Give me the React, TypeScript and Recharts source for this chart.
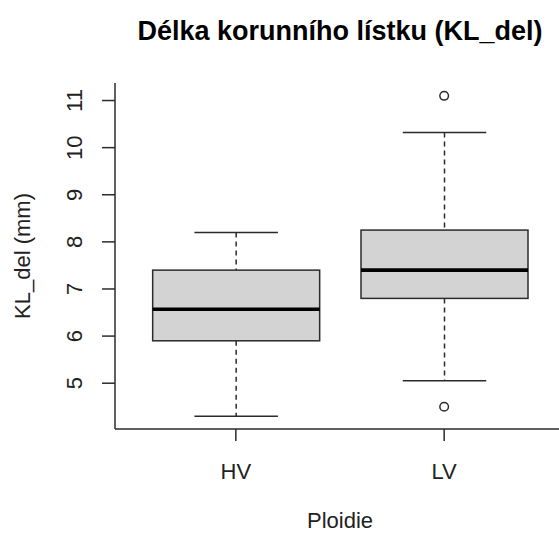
import { Bar, ComposedChart, Scatter, XAxis, YAxis } from "recharts";

// R-style boxplot: Délka korunního lístku podle ploidie
const groups = ["HV", "LV"];
const positions = [1, 2];
const lowerWhisker = [4.3, 5.05];
const lowerHinge = [5.9, 6.8];
const medians = [6.57, 7.4];
const upperHinge = [7.4, 8.25];
const upperWhisker = [8.2, 10.32];
const outlierGroups = ["LV", "LV"];
const outlierValues = [11.1, 4.5];
const yTicks = [5, 6, 7, 8, 9, 10, 11];

const boxes = groups.map((name, i) => ({
  name,
  pos: positions[i],
  lo: lowerWhisker[i],
  q1: lowerHinge[i],
  med: medians[i],
  q3: upperHinge[i],
  hi: upperWhisker[i],
}));

const outliers = outlierValues.map((value, i) => ({
  pos: positions[groups.indexOf(outlierGroups[i])],
  value,
}));

const FONT = "'Liberation Sans', Arial, sans-serif";
const INK = "#2b2b2b";

function BoxShape(props: any) {
  const { x, y, width, height, payload } = props;
  const top = Math.min(y, y + height);
  const bottom = Math.max(y, y + height);
  const d = payload;
  const py = (v: number) => top + ((bottom - top) * (d.hi - v)) / (d.hi - d.lo);
  const cx = x + width / 2;
  const cap = width / 4;
  return (
    <g>
      <line x1={cx} x2={cx} y1={py(d.hi)} y2={py(d.q3)} stroke={INK} strokeWidth={1.5} strokeDasharray="5 4" />
      <line x1={cx} x2={cx} y1={py(d.q1)} y2={py(d.lo)} stroke={INK} strokeWidth={1.5} strokeDasharray="5 4" />
      <line x1={cx - cap} x2={cx + cap} y1={py(d.hi)} y2={py(d.hi)} stroke={INK} strokeWidth={1.5} />
      <line x1={cx - cap} x2={cx + cap} y1={py(d.lo)} y2={py(d.lo)} stroke={INK} strokeWidth={1.5} />
      <rect x={x} y={py(d.q3)} width={width} height={py(d.q1) - py(d.q3)} fill="#d3d3d3" stroke={INK} strokeWidth={1.5} />
      <line x1={x} x2={x + width} y1={py(d.med)} y2={py(d.med)} stroke="#000" strokeWidth={3.6} />
    </g>
  );
}

function OutlierShape(props: any) {
  return <circle cx={props.cx} cy={props.cy} r={4.3} fill="none" stroke={INK} strokeWidth={1.5} />;
}

function YTick(props: any) {
  const { x, y, payload } = props;
  return (
    <text
      x={x}
      y={y}
      transform={`rotate(-90 ${x} ${y})`}
      textAnchor="middle"
      fontFamily={FONT}
      fontSize={22}
      fill="#222"
    >
      {payload.value}
    </text>
  );
}

function YLabel(props: any) {
  const { viewBox } = props;
  const x = viewBox.x + 30;
  const y = viewBox.y + viewBox.height / 2;
  return (
    <text x={x} y={y} transform={`rotate(-90 ${x} ${y})`} textAnchor="middle" fontFamily={FONT} fontSize={22} fill="#222">
      KL_del (mm)
    </text>
  );
}

export default function App() {
  return (
    <div style={{ position: "absolute", left: 0, top: 0, width: 559, height: 534, overflow: "hidden", background: "#fff" }}>
      <ComposedChart width={580} height={534} data={boxes} margin={{ top: 83, right: 15, bottom: 0, left: 0 }}>
        <text x={340} y={40} textAnchor="middle" fontFamily={FONT} fontSize={27} fontWeight="bold" fill="#000">
          Délka korunního lístku (KL_del)
        </text>
        <XAxis
          dataKey="pos"
          type="number"
          domain={[0.42, 2.58]}
          allowDataOverflow
          ticks={positions}
          tickFormatter={(v) => groups[positions.indexOf(v)]}
          height={105}
          tickSize={12}
          tickMargin={22}
          stroke={INK}
          strokeWidth={1.5}
          tick={{ fontFamily: FONT, fontSize: 22, fill: "#222" }}
          label={{ value: "Ploidie", position: "insideBottom", offset: 6, fontFamily: FONT, fontSize: 22, fill: "#222" }}
        />
        <XAxis
          xAxisId="top"
          orientation="top"
          type="number"
          domain={[0.42, 2.58]}
          height={0}
          tick={false}
          tickLine={false}
          stroke={INK}
          strokeWidth={1.5}
        />
        <YAxis
          type="number"
          domain={[4.028, 11.372]}
          allowDataOverflow
          ticks={yTicks}
          width={115}
          tickSize={13}
          tickMargin={20}
          stroke={INK}
          strokeWidth={1.5}
          tick={<YTick />}
          label={<YLabel />}
        />
        <Bar
          dataKey={(d: any) => [d.lo, d.hi]}
          barSize={167}
          shape={<BoxShape />}
          isAnimationActive={false}
        />
        <Scatter data={outliers} dataKey="value" shape={<OutlierShape />} isAnimationActive={false} />
      </ComposedChart>
    </div>
  );
}
